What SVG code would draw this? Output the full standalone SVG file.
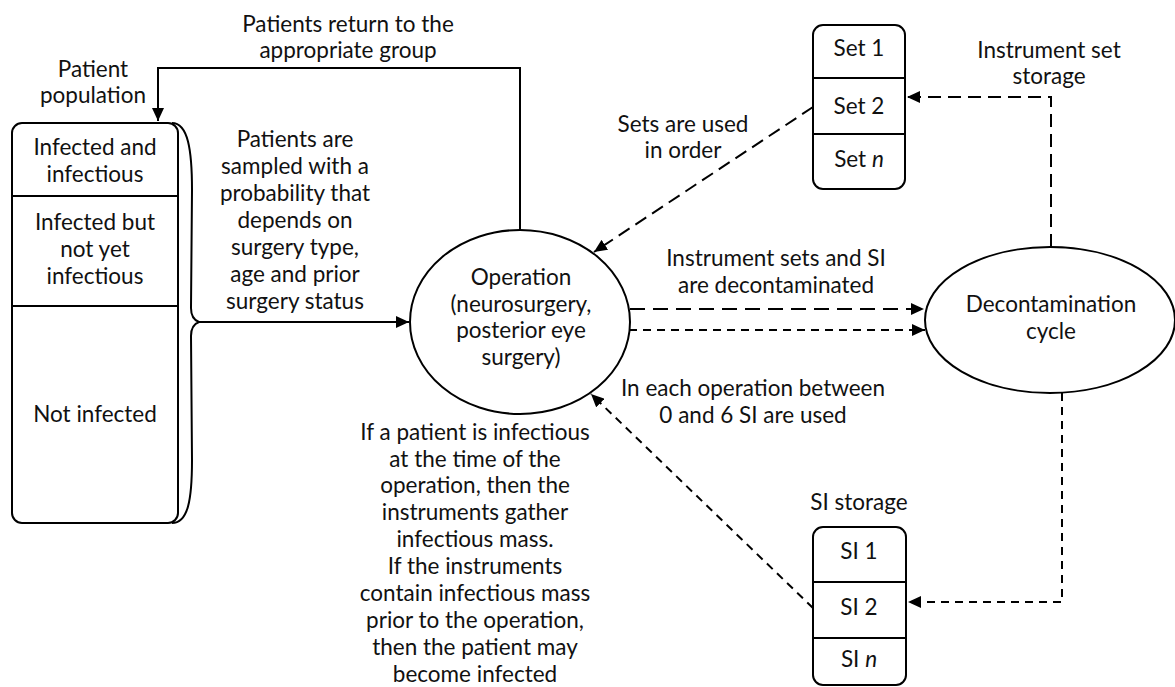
<svg xmlns="http://www.w3.org/2000/svg" width="1175" height="687" viewBox="0 0 1175 687">
<style>
text{font-family:Lato,"Open Sans","Liberation Sans",sans-serif;font-size:22.5px;font-weight:400;fill:#111;text-anchor:middle}
.shape{fill:#fff;stroke:#000;stroke-width:2}
.div{stroke:#000;stroke-width:2}
.line{fill:none;stroke:#000;stroke-width:2}
.ld{stroke-dasharray:13 7}
.sd{stroke-dasharray:8 6}
</style>
<defs>
<marker id="arr" markerUnits="userSpaceOnUse" markerWidth="13" markerHeight="12" refX="13" refY="6" orient="auto">
<path d="M0,0 L13,6 L0,12 z" fill="#000"/>
</marker>
</defs>
<g id="connectors">
<path class="line" d="M520,230 V68 H158 V121" marker-end="url(#arr)"/>
<path class="line" d="M199,322 H409" marker-end="url(#arr)"/>
<path class="line ld" d="M813,107 L594,252" marker-end="url(#arr)"/>
<path class="line ld" d="M1051,247 V97 H907" marker-end="url(#arr)"/>
<path class="line" style="stroke-dasharray:15 8" d="M630,309 H924" marker-end="url(#arr)"/>
<path class="line sd" d="M629,330 H925" marker-end="url(#arr)"/>
<path class="line sd" d="M1062,393 V602 H908" marker-end="url(#arr)"/>
<path class="line sd" d="M813,608 L591,394" marker-end="url(#arr)"/>
</g>
<g id="labels">
<text x="348" y="32">Patients return to the</text>
<text x="348" y="58">appropriate group</text>
<text x="93" y="77">Patient</text>
<text x="93" y="103">population</text>
<text x="295" y="147">Patients are</text>
<text x="295" y="174">sampled with a</text>
<text x="295" y="201">probability that</text>
<text x="295" y="228">depends on</text>
<text x="295" y="255">surgery type,</text>
<text x="295" y="282">age and prior</text>
<text x="295" y="309">surgery status</text>
<text x="683" y="132">Sets are used</text>
<text x="683" y="158">in order</text>
<text x="1049" y="58">Instrument set</text>
<text x="1049" y="84">storage</text>
<text x="776" y="266">Instrument sets and SI</text>
<text x="776" y="293">are decontaminated</text>
<text x="753" y="396">In each operation between</text>
<text x="753" y="423">0 and 6 SI are used</text>
<text x="859" y="510">SI storage</text>
<text x="475" y="440">If a patient is infectious</text>
<text x="475" y="467">at the time of the</text>
<text x="475" y="493">operation, then the</text>
<text x="475" y="520">instruments gather</text>
<text x="475" y="547">infectious mass.</text>
<text x="475" y="574">If the instruments</text>
<text x="475" y="601">contain infectious mass</text>
<text x="475" y="628">prior to the operation,</text>
<text x="475" y="655">then the patient may</text>
<text x="475" y="682">become infected</text>
</g>
<g id="patient-population">
<path class="line" d="M172,123 C188,123 192,150 192,190 L191,308 Q191,319 199,322 Q191,325 191,336 L192,460 C192,500 188,523 172,523"/>
<rect class="shape" x="12" y="123" width="166" height="400" rx="10"/>
<line class="div" x1="12" y1="196" x2="178" y2="196"/>
<line class="div" x1="12" y1="306" x2="178" y2="306"/>
<text x="95" y="155">Infected and</text>
<text x="95" y="182">infectious</text>
<text x="95" y="230">Infected but</text>
<text x="95" y="257">not yet</text>
<text x="95" y="284">infectious</text>
<text x="95" y="422">Not infected</text>
</g>
<g id="operation">
<ellipse class="shape" cx="520" cy="322" rx="110" ry="92"/>
<text x="521" y="285">Operation</text>
<text x="521" y="312">(neurosurgery,</text>
<text x="521" y="338">posterior eye</text>
<text x="521" y="365">surgery)</text>
</g>
<g id="decontamination">
<ellipse class="shape" cx="1050" cy="320" rx="125" ry="73"/>
<text x="1051" y="312">Decontamination</text>
<text x="1051" y="339">cycle</text>
</g>
<g id="set-storage">
<rect class="shape" x="813" y="25" width="92" height="164" rx="10"/>
<line class="div" x1="813" y1="78" x2="905" y2="78"/>
<line class="div" x1="813" y1="134" x2="905" y2="134"/>
<text x="859" y="56">Set 1</text>
<text x="859" y="114">Set 2</text>
<text x="859" y="167">Set <tspan font-style="italic">n</tspan></text>
</g>
<g id="si-storage">
<rect class="shape" x="813" y="527" width="93" height="158" rx="10"/>
<line class="div" x1="813" y1="582" x2="906" y2="582"/>
<line class="div" x1="813" y1="638" x2="906" y2="638"/>
<text x="859" y="559">SI 1</text>
<text x="859" y="615">SI 2</text>
<text x="859" y="667">SI <tspan font-style="italic">n</tspan></text>
</g>
</svg>
